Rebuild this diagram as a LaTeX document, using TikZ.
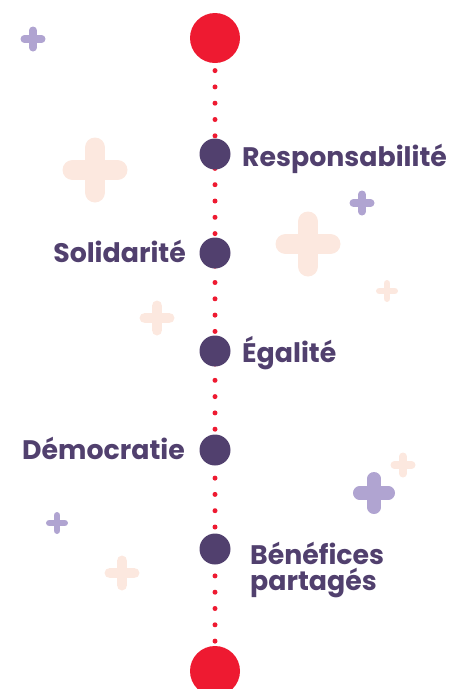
\documentclass[tikz,border=0pt]{standalone}
\usepackage{fontspec}
\setmainfont{Poppins}
\usepackage{tikz}
\definecolor{valred}{HTML}{EE1A31}
\definecolor{valpurple}{HTML}{51406E}
\definecolor{lilac}{HTML}{B0A4D1}
\definecolor{peach}{HTML}{FCE8DF}
\tikzset{endpoint/.style = {circle, fill=valred, minimum size=50pt, inner sep=0pt},
         stage/.style = {circle, fill=valpurple, minimum size=31pt, inner sep=0pt},
         value/.style = {text=valpurple, font=\bfseries\fontsize{26.8}{26}\selectfont, inner sep=0pt},
         dotline/.style = {valred, line width=5pt, line cap=round, dash pattern=on 0pt off 16.3pt},
         plus/.pic = {  \draw[line cap=round, line width={0.31*#1pt}] (-0.345*#1,0) -- (0.345*#1,0);
                        \draw[line cap=round, line width={0.31*#1pt}] (0,-0.345*#1) -- (0,0.345*#1);}}
\begin{document}
\begin{tikzpicture}[x=1pt,y=-1pt]
        \useasboundingbox (0,0) rectangle (449,689);

        % background crosses
        \draw(33,39)pic[lilac]{plus=25};
        \draw(95,170)pic[peach]{plus=65};
        \draw(362,203)pic[lilac]{plus=25};
        \draw(308,244)pic[peach]{plus=65};
        \draw(387,291)pic[peach]{plus=22};
        \draw(157,318)pic[peach]{plus=35};
        \draw(374,493)pic[lilac]{plus=42};
        \draw(403,465)pic[peach]{plus=25};
        \draw(57,523)pic[lilac]{plus=22};
        \draw(122,573)pic[peach]{plus=35};

        \coordinate (top) at (215,38);
        \coordinate (bottom) at (215,671);
        \draw[dotline](top)--(bottom);

        \node[endpoint] (start) at (top) {};
        \node[endpoint] (end) at (bottom) {};
        \node[stage] (resp) at (215,154) {};
        \node[stage] (soli) at (215,253) {};
        \node[stage] (egal) at (215,351) {};
        \node[stage] (demo) at (215,450) {};
        \node[stage] (bene) at (215,549) {};

        \node[value, anchor=base west] (resptext) at (242,166) {Responsabilité};
        \node[value, anchor=base east] (solitext) at (186,262) {Solidarité};
        \node[value, anchor=base west] (egaltext) at (242,362) {Égalité};
        \node[value, anchor=base east] (demotext) at (185,459) {Démocratie};
        \node[value, anchor=base west, align=left] (benetext) at (250,590) {Bénéfices\\partagés};
    \end{tikzpicture}
\end{document}
